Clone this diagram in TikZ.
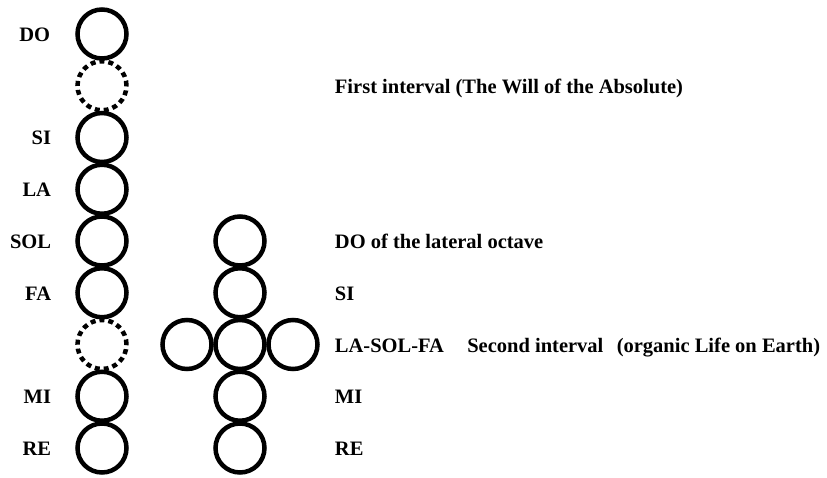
\documentclass[tikz,border=0pt]{standalone}
\usepackage{fontspec}
\setmainfont{Liberation Serif}[BoldFont={Liberation Serif Bold}]
\usetikzlibrary{positioning}

\begin{document}
\begin{tikzpicture}[x=1pt, y=-1pt, node distance=-1.75pt,
    ring/.style={draw, circle, line width=4.5pt, minimum size=49pt, inner sep=0pt},
    gapring/.style={ring, dash pattern=on 5pt off 4pt},
    note/.style={font=\fontsize{20.5}{24}\selectfont\bfseries, inner sep=0pt,
                 text height=17pt, text depth=2pt}]
  \useasboundingbox (0,0) rectangle (827,478);
  % main octave
  \node[ring] (do) at (102,34) {};
  \node[gapring, below=of do] (gapone) {};
  \node[ring, below=of gapone] (si) {};
  \node[ring, below=of si] (la) {};
  \node[ring, below=of la] (sol) {};
  \node[ring, below=of sol] (fa) {};
  \node[gapring, below=of fa] (gaptwo) {};
  \node[ring, below=of gaptwo] (mi) {};
  \node[ring, below=of mi] (re) {};
  % lateral octave
  \node[ring, right=84.5pt of sol] (ldo) {};
  \node[ring, below=of ldo] (lsi) {};
  \node[ring, below=of lsi] (lmid) {};
  \node[ring, left=-0.5pt of lmid] (lleft) {};
  \node[ring, right=-0.5pt of lmid] (lright) {};
  \node[ring, below=of lmid] (lmi) {};
  \node[ring, below=of lmi] (lre) {};
  % notes of the main octave
  \node[note, left=25pt of do] {DO};
  \node[note, left=24pt of si] {SI};
  \node[note, left=24pt of la] {LA};
  \node[note, left=24pt of sol] {SOL};
  \node[note, left=24pt of fa] {FA};
  \node[note, left=24pt of mi] {MI};
  \node[note, left=24pt of re] {RE};
  % notes of the lateral octave
  \node[note, right=206pt of gapone] (willtxt) {First interval (The Will of the Absolute)};
  \node[note, right=68pt of ldo] (ldotxt) {DO of the lateral octave};
  \node[note, right=68pt of lsi] (lsitxt) {SI};
  \node[note, right=15pt of lright] (lmidtxt) {LA-SOL-FA};
  \node[note, right=23pt of lmidtxt] (secondtxt) {Second interval};
  \node[note, right=13pt of secondtxt] (lifetxt) {(organic Life on Earth)};
  \node[note, right=68pt of lmi] (lmitxt) {MI};
  \node[note, right=68pt of lre] (lretxt) {RE};
\end{tikzpicture}
\end{document}
